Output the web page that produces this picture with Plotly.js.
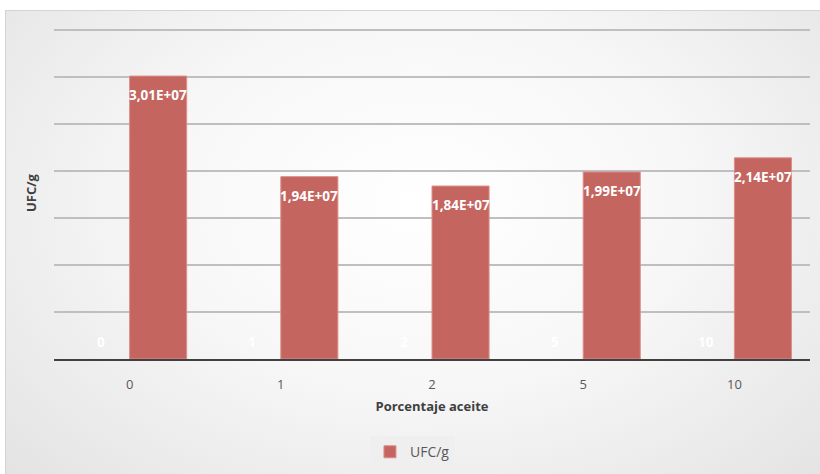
<!DOCTYPE html>
<html>
<head>
<meta charset="utf-8">
<script src="https://cdn.plot.ly/plotly-3.0.1.min.js"></script>
<style>
  html, body { margin: 0; padding: 0; background: #ffffff; }
  #frame {
    position: absolute; left: 5px; top: 10px; width: 830px; height: 480px;
    border: 1px solid #d4d4d4;
    background: radial-gradient(ellipse at 50% 40%, #ffffff 0%, #f7f7f7 45%, #e2e2e2 100%);
  }
  #chart { position: absolute; left: 0; top: 0; width: 820px; height: 474px; }
</style>
</head>
<body>
<div id="frame"></div>
<div id="chart"></div>
<script>
const categories = ['0', '1', '2', '5', '10'];
const porcentajeAceite = [0, 1, 2, 5, 10];
const ufcPorG = [3.01e7, 1.94e7, 1.84e7, 1.99e7, 2.14e7];
const ufcLabels = ['3,01E+07', '1,94E+07', '1,84E+07', '1,99E+07', '2,14E+07'];
const aceiteLabels = ['0', '1', '2', '5', '10'];

const labelFont = { family: 'Open Sans, sans-serif', size: 13.5, color: '#ffffff', weight: 'bold' };

const traces = [
  {
    type: 'bar', name: 'Porcentaje aceite', x: categories, y: porcentajeAceite,
    marker: { color: '#ffffff' }, showlegend: false, hoverinfo: 'skip'
  },
  {
    type: 'bar', name: 'UFC/g', x: categories, y: ufcPorG,
    marker: { color: '#c4655f', line: { color: '#dc8f8b', width: 1 } }
  }
];

// Label positions: each label sits on its bar (grouped, half a bar width off the category centre).
// On a category axis the annotation x is the category index.
const halfBar = 28.5;
const annotations = [];
categories.forEach((c, i) => {
  annotations.push({
    x: i, y: ufcPorG[i], xref: 'x', yref: 'y', text: ufcLabels[i], showarrow: false,
    xshift: halfBar, yshift: -19, yanchor: 'middle', font: labelFont
  });
  annotations.push({
    x: i, y: porcentajeAceite[i], xref: 'x', yref: 'y', text: aceiteLabels[i], showarrow: false,
    xshift: -halfBar, yshift: 17, yanchor: 'middle', font: labelFont
  });
});

const layout = {
  width: 820, height: 474,
  margin: { l: 54, r: 10, t: 27, b: 115 },
  paper_bgcolor: 'rgba(0,0,0,0)', plot_bgcolor: 'rgba(0,0,0,0)',
  barmode: 'group', bargap: 0.245, bargroupgap: 0,
  font: { family: 'Open Sans, sans-serif', color: '#595959' },
  annotations: annotations,
  xaxis: {
    type: 'category', range: [-0.5, categories.length - 0.5], autorange: false,
    showgrid: false, zeroline: false,
    showline: true, linecolor: '#404040', linewidth: 2,
    ticks: '', ticklabelstandoff: 12,
    tickfont: { size: 13, color: '#595959' },
    title: { text: 'Porcentaje aceite', font: { size: 13, color: '#404040', weight: 'bold' }, standoff: 10 }
  },
  yaxis: {
    range: [0, 3.532e7], autorange: false, dtick: 5e6, showticklabels: false, ticks: '',
    showgrid: true, gridcolor: '#bfbfbf', gridwidth: 1.3, zeroline: false,
    title: { text: 'UFC/g', font: { size: 13, color: '#404040', weight: 'bold' }, standoff: 13 }
  },
  showlegend: true,
  legend: {
    orientation: 'h', xref: 'container', yref: 'container',
    x: 0.503, xanchor: 'center', y: 0.046, yanchor: 'middle',
    bgcolor: '#efefef', font: { size: 14, color: '#595959' },
    itemwidth: 30
  }
};

Plotly.newPlot('chart', traces, layout, { displayModeBar: false, staticPlot: true });
</script>
</body>
</html>
